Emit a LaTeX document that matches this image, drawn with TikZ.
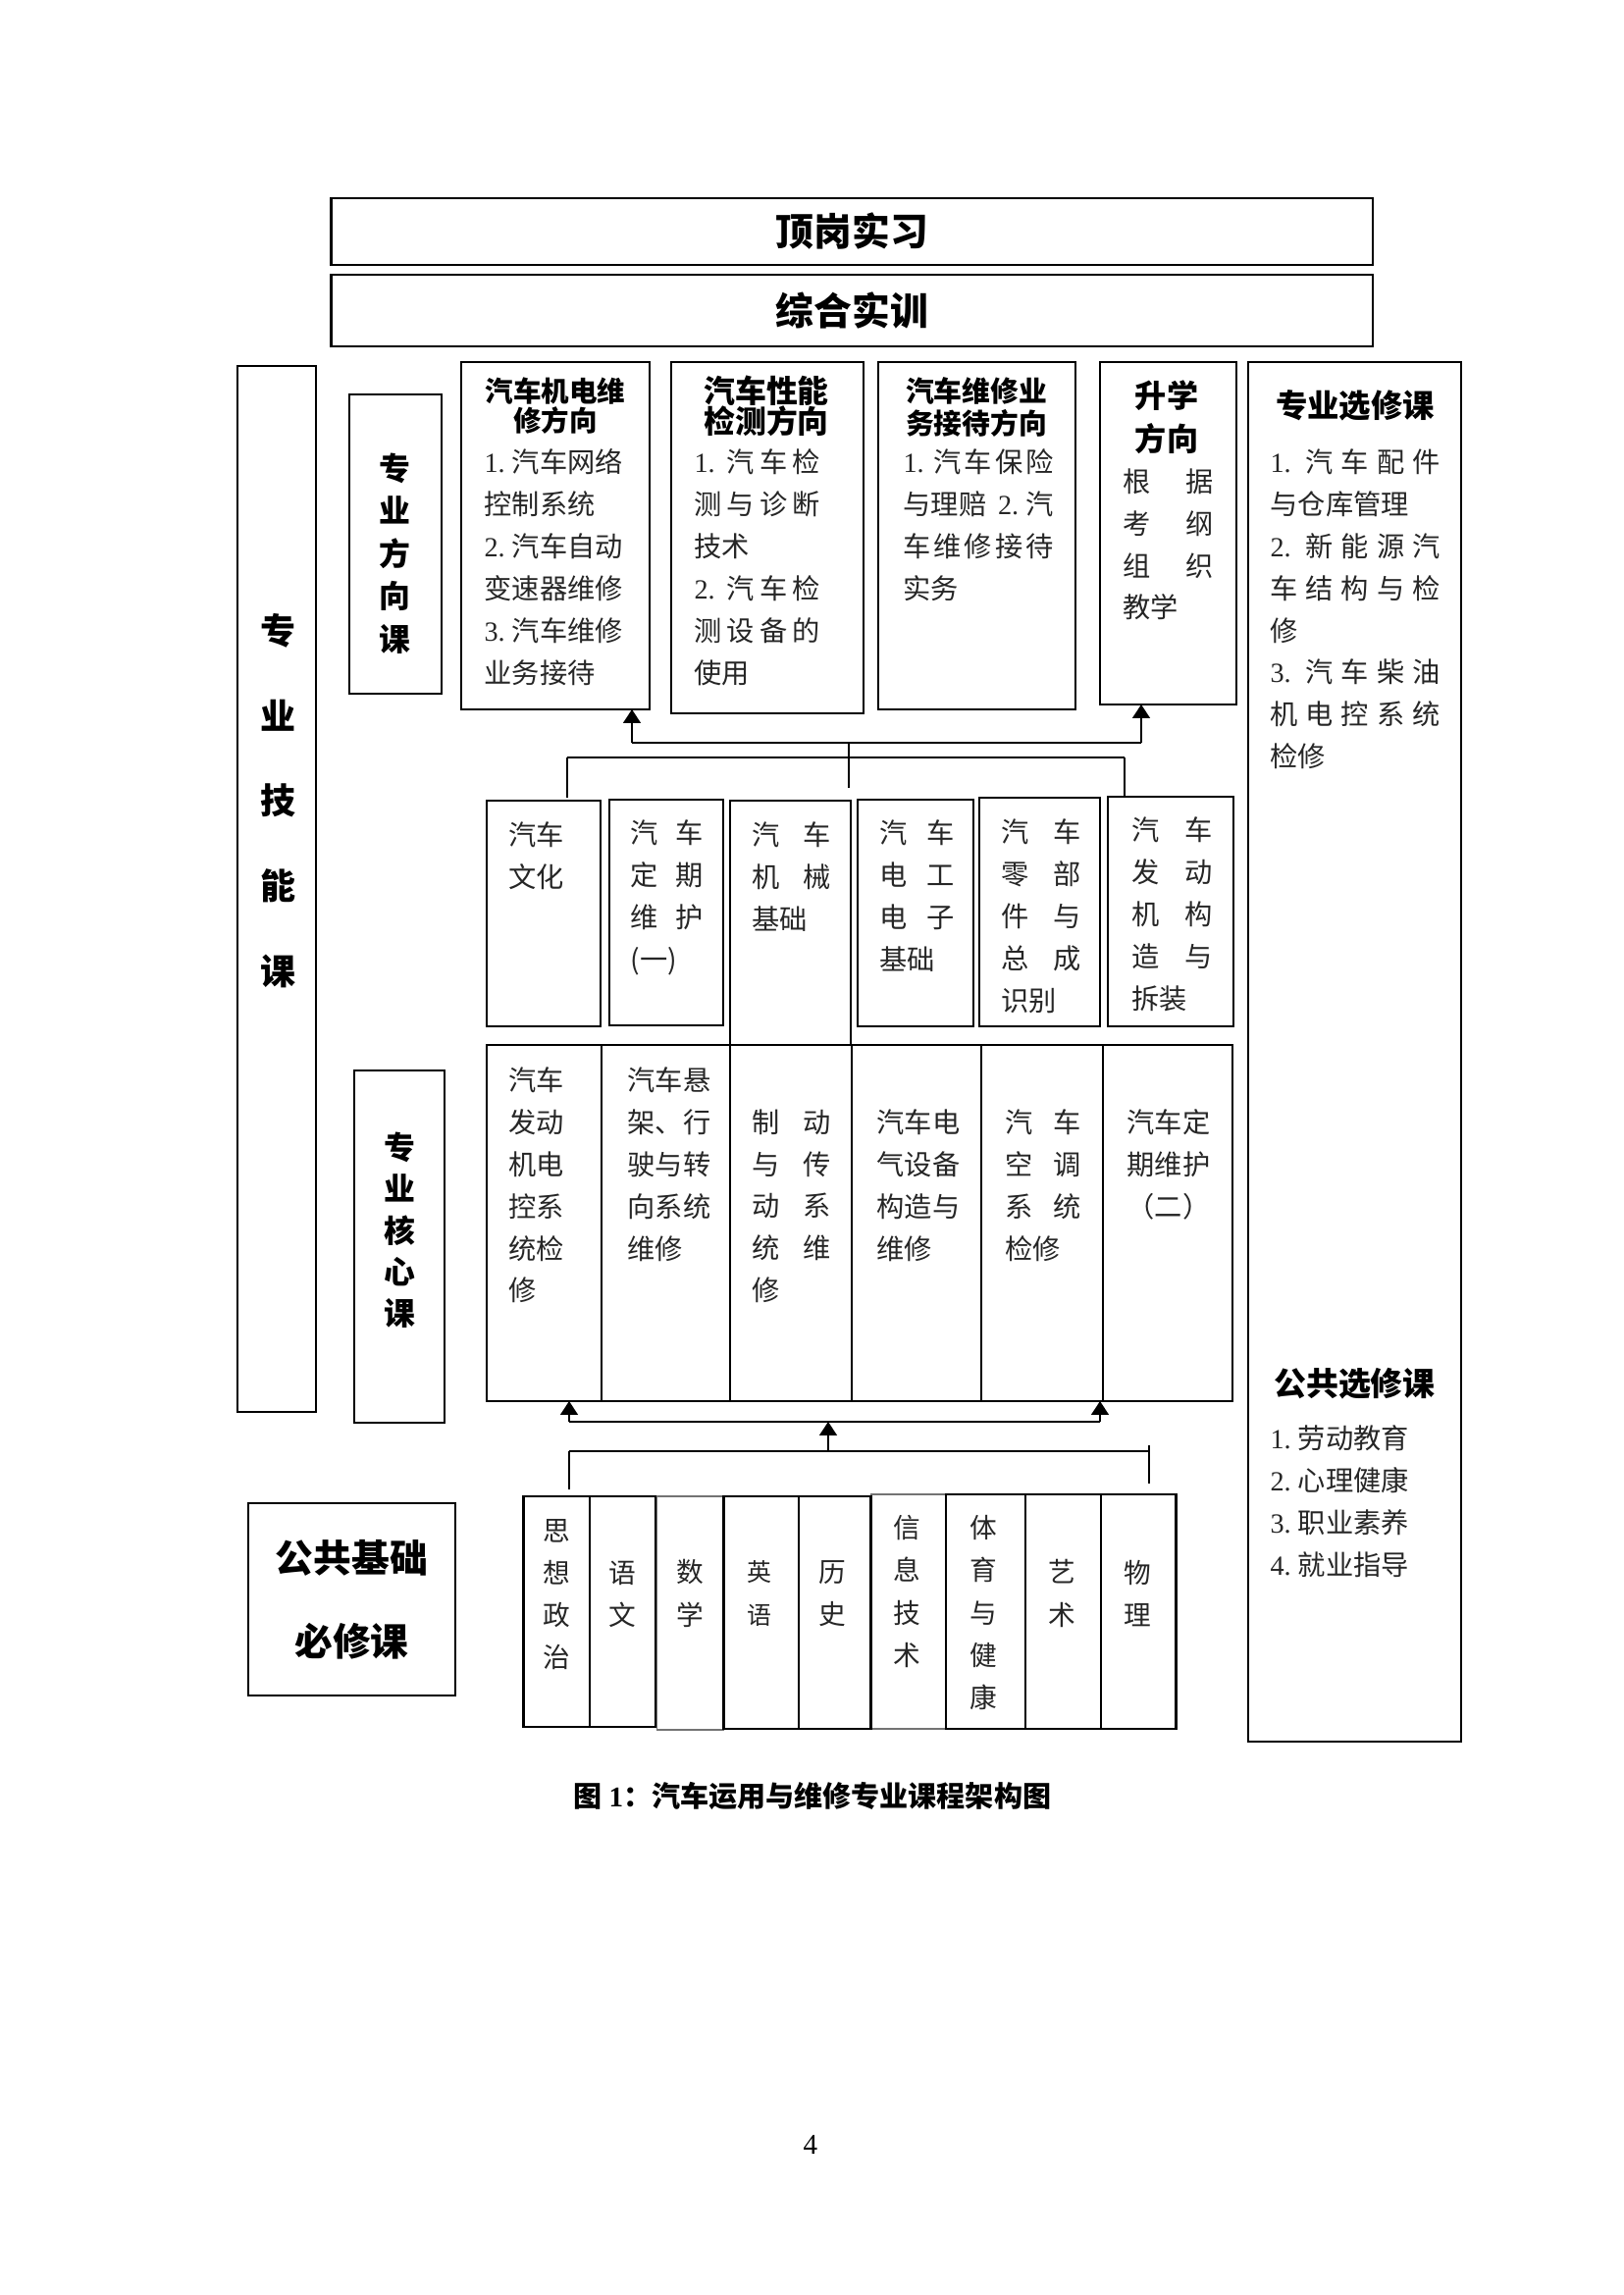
\documentclass[tikz,border=0pt]{standalone}
\usepackage{fontspec}
\setmainfont{Liberation Serif}
\newfontfamily\cjk{Noto Sans CJK SC}
\usetikzlibrary{arrows.meta}

% one pixel of the page (1654 px = 210 mm)
\newlength{\pu}
\setlength{\pu}{0.12697mm}
\newcommand{\fs}[2]{\fontsize{#1pt}{#2pt}\selectfont}
\newcommand{\itm}[1]{{\rmfamily #1.}\hspace{0.25em}}
% box from corner (x1,y1) to corner (x2,y2)
\newcommand{\cbox}[6][]{%
    \node[box, #1, minimum width={(#5-#3)*\pu}, minimum height={(#6-#4)*\pu}] (#2) at (#3,#4) {};
}

\tikzset{
    box/.style={draw, line width=0.75pt, inner sep=0pt, outer sep=0pt, anchor=north west},
    hd/.style 2 args={font=\cjk\bfseries\fs{#1}{#2}, align=center, inner sep=0pt},
    txt/.style={font=\cjk\fs{10.2}{15.5}, align=left, inner sep=0pt, anchor=north west, text width=#1\pu, text=black!85},
    col/.style={font=\cjk\fs{10}{15.6}, align=center, inner sep=0pt, text=black!85},
    link/.style={line width=0.65pt},
    arr/.style={link, -{Triangle[length=5pt,width=6.4pt]}},
}

\begin{document}
\begin{tikzpicture}[x=1\pu, y=-1\pu]
    \fill[white] (0,0) rectangle (1654,2339);
    \useasboundingbox (0,0) rectangle (1654,2339);

    % top rows
    \cbox{ding}{337.5}{202}{1399}{270}
    \node[hd={14}{16}] (ding-t) at (ding.center) {顶岗实习};
    \cbox{zong}{337.5}{280}{1399}{353}
    \node[hd={14}{16}] (zong-t) at (zong.center) {综合实训};

    % left labels
    \cbox{jn}{242}{373}{322}{1439}
    \node[hd={13}{31.3}] (jn-t) at (283,816) {专\\业\\技\\能\\课};
    \cbox{fx}{356}{402}{450}{707}
    \node[hd={11.5}{15.7}] (fx-t) at (402,564) {专\\业\\方\\向\\课};
    \cbox{hx}{361}{1091}{453}{1450}
    \node[hd={11.5}{15.3}] (hx-t) at (407,1254) {专\\业\\核\\心\\课};
    \cbox{gj}{253}{1532}{464}{1728}
    \node[hd={14}{30.6}] (gj-t) at (358.5,1630) {公共基础\\必修课};

    % direction courses
    \cbox{me}{470}{369}{662}{723}
    \node[hd={10.3}{10.6}] (me-h) at (566,413.5) {汽车机电维\\修方向};
    \node[txt=146] (me-t) at (493,457) {\itm{1}汽车网络\\控制系统\\\itm{2}汽车自动\\变速器维修\\\itm{3}汽车维修\\业务接待};
    \cbox{pt}{684}{369}{880}{727}
    \node[hd={11.5}{11.2}] (pt-h) at (781,413.5) {汽车性能\\检测方向};
    \node[txt=128] (pt-t) at (707,457) {\itm{1}\hfill 汽\hfill 车\hfill 检\\测\hfill 与\hfill 诊\hfill 断\\技术\\\itm{2}\hfill 汽\hfill 车\hfill 检\\测\hfill 设\hfill 备\hfill 的\\使用};
    \cbox{sv}{895}{369}{1096}{723}
    \node[hd={10.4}{11.9}] (sv-h) at (995,415) {汽车维修业\\务接待方向};
    \node[txt=153] (sv-t) at (920,457) {\itm{1}\hfill 汽\hfill 车\hfill 保\hfill 险\\\makebox[153\pu][l]{与理赔\hfill{\rmfamily 2.}\hspace{0.25em}汽}\\车\hfill 维\hfill 修\hfill 接\hfill 待\\实务};
    \cbox{up}{1121}{369}{1260}{718}
    \node[hd={11.6}{15.8}] (up-h) at (1189,425) {升学\\方向};
    \node[txt=92] (up-t) at (1144,477) {根\hfill 据\\考\hfill 纲\\组\hfill 织\\教学};

    % electives
    \cbox{el}{1272}{369}{1489}{1775}
    \node[hd={11.7}{14}] (el-h) at (1381,413) {专业选修课};
    \node[txt=173] (el-t) at (1294,457) {\itm{1}\hfill 汽\hfill 车\hfill 配\hfill 件\\与仓库管理\\\itm{2}\hfill 新\hfill 能\hfill 源\hfill 汽\\车\hfill 结\hfill 构\hfill 与\hfill 检\\修\\\itm{3}\hfill 汽\hfill 车\hfill 柴\hfill 油\\机\hfill 电\hfill 控\hfill 系\hfill 统\\检修};
    \node[hd={11.9}{14}] (gx-h) at (1380.5,1410) {公共选修课};
    \node[txt=160] (gx-t) at (1294,1452) {\itm{1}劳动教育\\\itm{2}心理健康\\\itm{3}职业素养\\\itm{4}就业指导};

    % basic skill courses
    \cbox{wh}{496}{816}{612}{1046}
    \node[txt=60] (wh-t) at (518,837) {汽车\\文化};
    \cbox{dq1}{621}{815}{737}{1045}
    \node[txt=74] (dq1-t) at (642,835) {汽\hfill 车\\定\hfill 期\\维\hfill 护\\(一)};
    \node[inner sep=0pt, outer sep=0pt, anchor=north west, minimum width={123*\pu}, minimum height={249*\pu}] (jx) at (744,816) {};
    \draw[line width=0.75pt] (jx.south west) -- (jx.north west) -- (jx.north east) -- (jx.south east);
    \node[txt=80] (jx-t) at (766,837) {汽\hfill 车\\机\hfill 械\\基础};
    \cbox{dz}{874}{815}{992}{1046}
    \node[txt=76] (dz-t) at (896,835) {汽\hfill 车\\电\hfill 工\\电\hfill 子\\基础};
    \cbox{lb}{998}{813}{1121}{1046}
    \node[txt=81] (lb-t) at (1020,834) {汽\hfill 车\\零\hfill 部\\件\hfill 与\\总\hfill 成\\识别};
    \cbox{fd}{1129}{812}{1257}{1046}
    \node[txt=82] (fd-t) at (1153,832) {汽\hfill 车\\发\hfill 动\\机\hfill 构\\造\hfill 与\\拆装};

    % core courses
    \cbox{k1}{496}{1065}{613}{1428}
    \node[txt=60] (k1-t) at (518,1087) {汽车\\发动\\机电\\控系\\统检\\修};
    \cbox{k2}{613}{1065}{744}{1428}
    \node[txt=86] (k2-t) at (639,1087) {汽车悬\\架、行\\驶与转\\向系统\\维修};
    \cbox{k3}{744}{1065}{868}{1428}
    \node[txt=80] (k3-t) at (766,1130) {制\hfill 动\\与\hfill 传\\动\hfill 系\\统\hfill 维\\修};
    \cbox{k4}{868}{1065}{1000}{1428}
    \node[txt=86] (k4-t) at (893,1130) {汽车电\\气设备\\构造与\\维修};
    \cbox{k5}{1000}{1065}{1124}{1428}
    \node[txt=77] (k5-t) at (1024,1130) {汽\hfill 车\\空\hfill 调\\系\hfill 统\\检修};
    \cbox{k6}{1124}{1065}{1256}{1428}
    \node[txt=86] (k6-t) at (1148,1130) {汽车定\\期维护\\（二）};

    % public basic courses
    \cbox[line width=0.4pt, draw=black!55]{sx}{669.5}{1525}{737.5}{1763}
    \cbox[line width=0.4pt, draw=black!55]{xx}{887.5}{1523}{964}{1762}
    \cbox{sz}{533.5}{1525}{600.6}{1760}
    \cbox{yw}{600.6}{1525}{668}{1760}
    \cbox{yy}{737.5}{1525}{813.8}{1762}
    \cbox{ls}{813.8}{1525}{887.5}{1762}
    \cbox{ty}{964}{1523}{1045}{1762}
    \cbox{ys}{1045}{1523}{1122}{1762}
    \cbox{wl}{1122}{1523}{1198.5}{1762}
    \node[col] (sz-t) at (567,1625) {思\\想\\政\\治};
    \node[col] (yw-t) at (634,1625) {语\\文};
    \node[col] (sx-t) at (703,1624) {数\\学};
    \node[col, font=\cjk\fs{9}{15.6}] (yy-t) at (774,1624) {英\\语};
    \node[col] (ls-t) at (848,1624) {历\\史};
    \node[col] (xx-t) at (924,1622) {信\\息\\技\\术};
    \node[col] (ty-t) at (1002,1643.5) {体\\育\\与\\健\\康};
    \node[col] (ys-t) at (1082,1624) {艺\\术};
    \node[col] (wl-t) at (1159,1624) {物\\理};

    % connectors, upper
    \coordinate (ja) at (644,757);
    \coordinate (jd) at (1163,757);
    \coordinate (jm) at (865,757);
    \coordinate (jmb) at (865,803);
    \coordinate (jl) at (578,772);
    \coordinate (jr) at (1146,772);
    \draw[arr] (ja) -- (ja |- me.south);
    \draw[arr] (jd) -- (jd |- up.south);
    \draw[link] (ja) -- (jd);
    \draw[link] (jm) -- (jmb);
    \draw[link] (jl) -- (jr);
    \draw[link, shorten >=3\pu] (jl) -- (jl |- wh.north);
    \draw[link] (jr) -- (jr |- fd.north);

    % connectors, lower
    \coordinate (kl) at (580,1449);
    \coordinate (kr) at (1121,1449);
    \coordinate (km) at (844,1479);
    \coordinate (ml) at (580,1479);
    \coordinate (mr) at (1171,1479);
    \coordinate (mrt) at (1171,1473);
    \draw[arr] (kl) -- (kl |- k1.south);
    \draw[arr] (kr) -- (kr |- k5.south);
    \draw[link] (kl) -- (kr);
    \draw[arr] (km) -- (km |- kl);
    \draw[link] (ml) -- (mr);
    \draw[link, shorten >=7\pu] (ml) -- (ml |- sz.north);
    \draw[link, shorten >=11\pu] (mrt) -- (mrt |- wl.north);

    % caption and page number
    \node[font=\cjk\bfseries\fs{10.5}{12}, inner sep=0pt] (cap) at (828,1830) {图 {\rmfamily 1}：汽车运用与维修专业课程架构图};
    \node[font=\fs{10.5}{12}, inner sep=0pt] (pg) at (826,2186) {4};
\end{tikzpicture}
\end{document}
